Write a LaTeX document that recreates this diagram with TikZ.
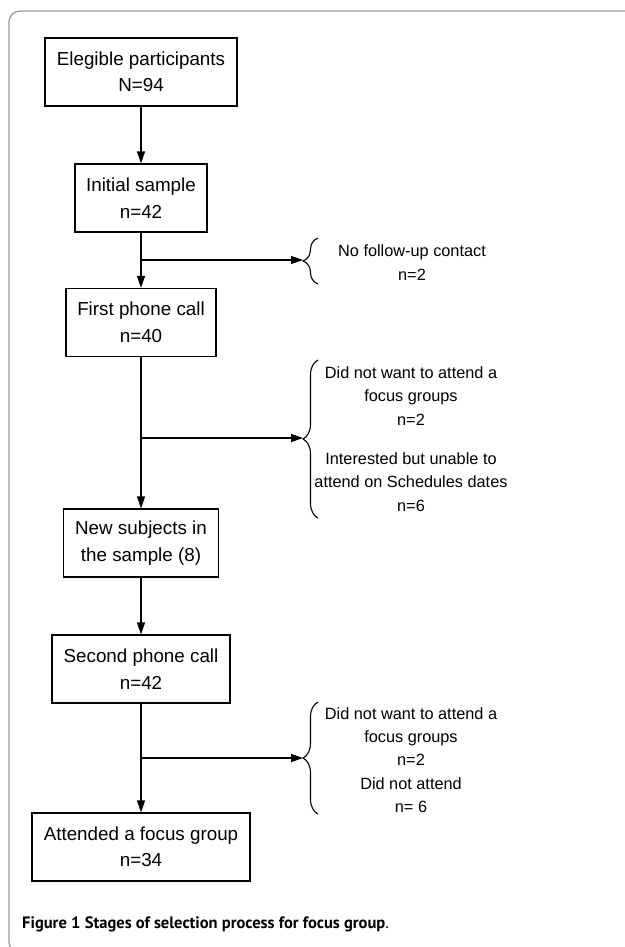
\documentclass[tikz,border=0pt]{standalone}
\usepackage{fontspec}
\setmainfont{Liberation Sans}
\newfontfamily\capfont{PT Sans}
\usetikzlibrary{arrows.meta,decorations.pathreplacing}
\begin{document}
\begin{tikzpicture}[x=1pt,y=-1pt,
  stagebox/.style={draw,line width=1.2pt,inner sep=0pt,align=center,minimum height=68pt,
    font=\fontsize{18.8}{26.5}\selectfont},
  sidetext/.style={inner sep=0pt,align=center,font=\fontsize{16.3}{23.3}\selectfont},
  flow/.style={line width=1.2pt,-{Triangle[length=12pt,width=8pt]}},
  plain/.style={line width=1.2pt},
  sidebrace/.style={line width=1.1pt,decorate,decoration={brace,amplitude=15pt}},
  frame/.style={draw=black!40,line width=1.3pt,rounded corners=11pt}]
\useasboundingbox (0,0) rectangle (624,947);
\draw[frame] (640,11) -- (9,11) -- (9,953) -- (640,953);

\node[stagebox,minimum width=192pt] (b1) at (141,72) {Elegible participants\\N=94};
\node[stagebox,minimum width=132pt] (b2) at (141,198) {Initial sample\\n=42};
\node[stagebox,minimum width=150pt] (b3) at (141,322.5) {First phone call\\n=40};
\node[stagebox,minimum width=155pt] (b4) at (141,543) {New subjects in\\the sample (8)};
\node[stagebox,minimum width=178pt] (b5) at (141,669) {Second phone call\\n=42};
\node[stagebox,minimum width=218pt] (b6) at (141,847) {Attended a focus group\\n=34};

\node[sidetext] (t1) at (412,262.5) {No follow-up contact\\n=2};
\node[sidetext] (t2a) at (411,396) {Did not want to attend a\\focus groups\\n=2};
\node[sidetext] (t2b) at (411,482) {Interested but unable to\\attend on Schedules dates\\n=6};
\node[sidetext] (t3) at (411,760) {Did not want to attend a\\focus groups\\n=2\\Did not attend\\n= 6};

\coordinate (j1) at (141,260);
\coordinate (j2) at (141,438);
\coordinate (j3) at (141,758);
\coordinate (k1) at (303,260);
\coordinate (k2) at (303,438);
\coordinate (k3) at (303,758);
\coordinate (r1b) at (318,284);
\coordinate (r1t) at (318,238);
\coordinate (r2b) at (318,518);
\coordinate (r2t) at (318,360);
\coordinate (r3b) at (318,814);
\coordinate (r3t) at (318,702);

\draw[flow] (b1) -- (b2);
\draw[flow] (b2) -- (b3);
\draw[flow] (b3) -- (b4);
\draw[flow] (b4) -- (b5);
\draw[flow] (b5) -- (b6);
\draw[flow] (j1) -- (k1);
\draw[flow] (j2) -- (k2);
\draw[flow] (j3) -- (k3);
\draw[sidebrace] (r1b) -- (r1t);
\draw[sidebrace] (r2b) -- (r2t);
\draw[sidebrace] (r3b) -- (r3t);

\node[anchor=base west,inner sep=0pt,font=\capfont\fontsize{16.5}{20}\selectfont] (cap) at (22,928)
  {\textbf{Figure 1} \textbf{Stages of selection process for focus group}.};
\end{tikzpicture}
\end{document}
